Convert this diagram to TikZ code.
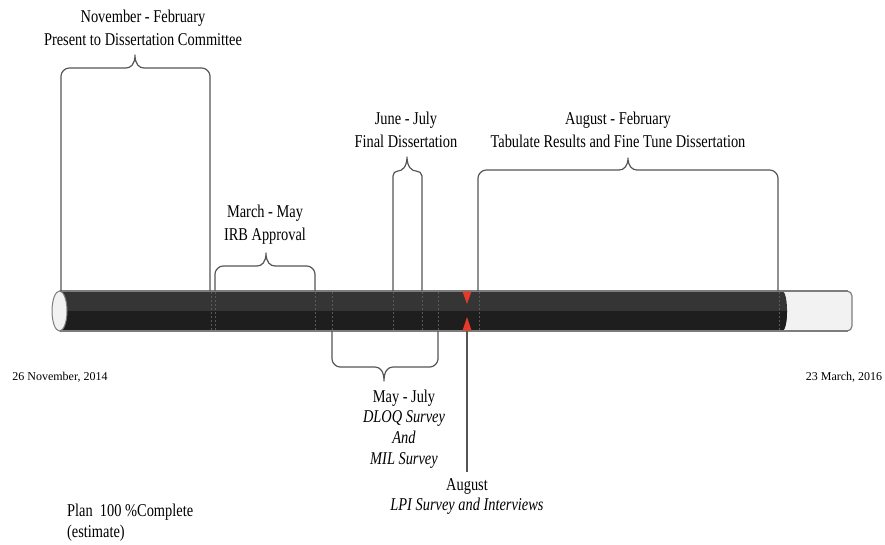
\documentclass[tikz,border=0pt]{standalone}
\usepackage{fontspec}
\setmainfont{Liberation Serif}[FakeStretch=0.8]
\newfontfamily\datefont{Liberation Serif}
\usetikzlibrary{positioning}
\definecolor{tubetop}{RGB}{53,53,53}
\definecolor{tubebot}{RGB}{30,30,30}
\definecolor{tubeedge}{RGB}{125,125,125}
\definecolor{tubelite}{RGB}{242,242,242}
\definecolor{markred}{RGB}{228,58,44}
\definecolor{bracegray}{RGB}{85,85,85}

\begin{document}
\begin{tikzpicture}[x=1pt, y=-1pt,
  brace/.style={draw=bracegray, line width=1.2pt, line join=round},
  lbl/.style={align=center, inner sep=0pt, font=\fontsize{18}{23}\selectfont},
  lowlbl/.style={align=center, inner sep=0pt, font=\fontsize{18}{20.7}\selectfont},
  datelbl/.style={inner sep=0pt, font=\datefont\fontsize{12}{14}\selectfont},
  inbar/.style={draw=gray!70!black, dash pattern=on 2pt off 2pt, line width=0.6pt}]
 \useasboundingbox (0,0) rectangle (885,544);
 % the tube
 \draw[draw=tubeedge, line width=1.2pt, fill=tubelite, rounded corners=5pt] (700,291) -- (852,291) -- (852,331) -- (700,331);
 \fill[tubetop] (59.5,291) -- (782,291) .. controls (788.7,291) and (788.7,331) .. (782,331) -- (59.5,331) -- cycle;
 \fill[tubebot] (59.5,311) -- (787,311) .. controls (787,322) and (784.8,331) .. (782,331) -- (59.5,331) -- cycle;
 \draw[tubeedge, line width=1.2pt] (59.5,291) -- (848,291) (59.5,331) -- (848,331);
 \foreach \x in {211,215,315,332,393,422,438,479,779}
  \draw[inbar] (\x,292) -- (\x,330);
 \draw[draw=tubeedge, fill=tubelite, line width=1pt] (59.5,311) ellipse [x radius=7.5, y radius=20];
 % today marker
 \fill[markred] (462.5,291.5) -- (471.5,291.5) -- (467,304) -- cycle;
 \fill[markred] (462.5,330.5) -- (471.5,330.5) -- (467,317) -- cycle;
 % braces
 \draw[brace] (61,291) -- (61,76) .. controls (61,72) and (65,68) .. (69,68) -- (126,68) .. controls (131,68) and (135,64) .. (135,55) .. controls (135,64) and (139,68) .. (144,68) -- (202,68) .. controls (206,68) and (210,72) .. (210,76) -- (210,291);
 \draw[brace] (215,291) -- (215,274) .. controls (215,270) and (219,266) .. (223,266) -- (257,266) .. controls (262,266) and (266,262) .. (266,253) .. controls (266,262) and (270,266) .. (275,266) -- (307,266) .. controls (311,266) and (315,270) .. (315,274) -- (315,291);
 \draw[brace] (393,291) -- (393,176) .. controls (393,173) and (395,171) .. (398,171) .. controls (402,171) and (407,167) .. (407,157) .. controls (407,167) and (412,171) .. (416,171) .. controls (419,171) and (422,173) .. (422,176) -- (422,291);
 \draw[brace] (478,291) -- (478,178) .. controls (478,174) and (482,170) .. (486,170) -- (619,170) .. controls (624,170) and (628,166) .. (628,158) .. controls (628,166) and (632,170) .. (637,170) -- (770,170) .. controls (774,170) and (778,174) .. (778,178) -- (778,291);
 \draw[brace] (332,331) -- (332,359) .. controls (332,363) and (336,367) .. (340,367) -- (375,367) .. controls (380,367) and (384,371) .. (384,381) .. controls (384,371) and (388,367) .. (393,367) -- (430,367) .. controls (434,367) and (438,363) .. (438,359) -- (438,331);
 \coordinate (augmark) at (467,331);
 \coordinate (augfoot) at (467,472);
 \draw[brace] (augmark) -- (augfoot);
 % labels
 \node[lbl] (novfeb) at (143,28) {November - February\\Present to Dissertation Committee};
 \node[lbl] (marmay) at (265,225) {March - May\\IRB Approval};
 \node[lbl] (junjul) at (406,130) {June - July\\Final Dissertation};
 \node[lbl] (augfeb) at (618,130) {August - February\\Tabulate Results and Fine Tune Dissertation};
 \node[lowlbl] (mayjul) at (404,429) {May - July\\\textit{DLOQ Survey}\\\textit{And}\\\textit{MIL Survey}};
 \node[lowlbl, below=6pt of augfoot] (august) {August\\\textit{LPI Survey and Interviews}};
 \node[datelbl] (startdate) at (60,377) {26 November, 2014};
 \node[datelbl] (enddate) at (844,377) {23 March, 2016};
 \node[lowlbl, align=left, anchor=west] (plan) at (67,523) {Plan\ \ 100 \%Complete\\(estimate)};
\end{tikzpicture}
\end{document}
